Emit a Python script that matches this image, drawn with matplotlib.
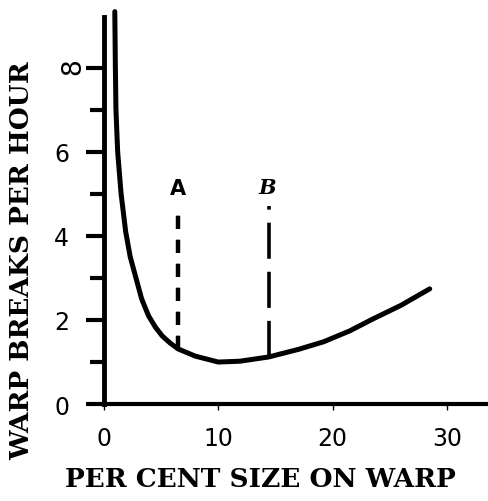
import matplotlib.pyplot as plt
from matplotlib.transforms import offset_copy

# values
size_pct = [0.95, 1.0, 1.05, 1.2, 1.5, 1.9, 2.3, 2.8, 3.3, 3.9, 4.5, 5.1, 5.8, 6.5,
            8.0, 10.0, 11.9, 14.4, 17.0, 19.2, 21.5, 23.5, 26.0, 28.5]
breaks = [9.33, 8.0, 7.0, 6.0, 5.0, 4.1, 3.5, 3.0, 2.5, 2.1, 1.83, 1.62, 1.45, 1.31,
          1.14, 1.0, 1.02, 1.12, 1.3, 1.48, 1.74, 2.02, 2.35, 2.74]

mark_x = [6.5, 14.4]
mark_lo = [1.31, 1.12]
mark_hi = [4.71, 4.71]
mark_lbl = ["A", "B"]

y_major = [0, 2, 4, 6, 8]
y_minor = [1, 3, 5, 7]
x_major = [0, 10, 20, 30]

fig = plt.figure(figsize=(4.88, 5.02), dpi=100, facecolor="white")
ax = fig.add_axes([0.213, 0.193, 0.787, 0.771])

ax.plot(size_pct, breaks, color="black", lw=3.6, solid_capstyle="round",
        solid_joinstyle="round", clip_on=False)

# dashed markers A (short dashes) and B (long dashes)
ax.plot([mark_x[0]] * 2, [mark_lo[0], mark_hi[0]], color="black", lw=3.2,
        linestyle=(0, (3, 2.4)))
ax.plot([mark_x[1]] * 2, [mark_lo[1], mark_hi[1]], color="black", lw=2.6,
        linestyle=(0, (10, 3.6)))
ax.text(mark_x[0] - 0.05, mark_hi[0] + 0.42, mark_lbl[0], ha="center", va="center",
        fontsize=15, fontweight="bold", family="DejaVu Sans")
ax.text(mark_x[1] - 0.1, mark_hi[1] + 0.45, mark_lbl[1], ha="center", va="center",
        fontsize=15, fontweight="bold", style="italic", family="DejaVu Serif")

ax.set_xlim(0, 33.6)
ax.set_ylim(0, 9.2)

for s in ["top", "right"]:
    ax.spines[s].set_visible(False)
ax.spines["left"].set_linewidth(3.5)
ax.spines["bottom"].set_linewidth(3)

ax.set_yticks(y_major)
ax.set_yticks(y_minor, minor=True)
ax.set_xticks(x_major)
ax.tick_params(axis="y", which="major", length=13, width=3, pad=12,
               labelsize=17, direction="out")
ax.tick_params(axis="y", which="minor", length=10, width=3, direction="out")
ax.tick_params(axis="x", which="major", length=4, width=1, pad=12,
               labelsize=17, direction="out")
for lab in ax.get_xticklabels() + ax.get_yticklabels():
    lab.set_family("DejaVu Sans")
# the "8" is printed sideways in the original, and sits nearer the axis
eight = ax.get_yticklabels()[-1]
eight.set_rotation(90)
eight.set_fontsize(19)
eight.set_transform(offset_copy(eight.get_transform(), fig=fig, x=12, y=0,
                                units="points"))

ax.set_xlabel("PER CENT SIZE ON WARP", family="DejaVu Serif",
              fontweight="bold", fontsize=19)
ax.set_ylabel("WARP BREAKS PER HOUR", family="DejaVu Serif",
              fontweight="bold", fontsize=19)
ax.xaxis.set_label_coords(0.533, 0.044, transform=fig.transFigure)
ax.yaxis.set_label_coords(0.045, 0.48, transform=fig.transFigure)
ax.xaxis.label.set_va("center")
ax.yaxis.label.set_va("center")

fig.savefig("out.png", dpi=100)
